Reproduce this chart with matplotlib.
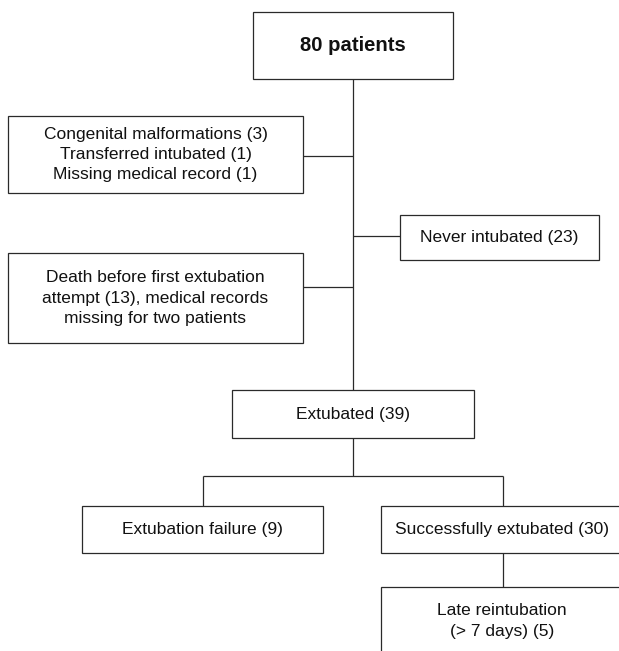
import matplotlib
matplotlib.use("Agg")
import matplotlib.pyplot as plt
from matplotlib.patches import Rectangle

plt.rcParams['font.family'] = ['Liberation Sans', 'DejaVu Sans']

# Texte der Kaestchen
labels = [
    "80 patients",
    "Congenital malformations (3)\nTransferred intubated (1)\nMissing medical record (1)",
    "Never intubated (23)",
    "Death before first extubation\nattempt (13), medical records\nmissing for two patients",
    "Extubated (39)",
    "Extubation failure (9)",
    "Successfully extubated (30)",
    "Late reintubation\n(> 7 days) (5)",
]

# Lage der Kaestchen in Pixeln: x0, y0, x1, y1
boxes = [
    (253, 12, 453, 79),
    (8, 116, 303, 193),
    (400, 215, 599, 260),
    (8, 253, 303, 343),
    (232, 390, 474, 438),
    (82, 506, 323, 553),
    (381, 506, 624, 553),
    (381, 587, 624, 660),
]
# Verbindungslinien
lines = [
    ((353, 79), (353, 390)),
    ((303, 156), (353, 156)),
    ((353, 236), (400, 236)),
    ((303, 287), (353, 287)),
    ((353, 438), (353, 476)),
    ((203, 476), (503, 476)),
    ((203, 476), (203, 506)),
    ((503, 476), (503, 506)),
    ((503, 553), (503, 587)),
]

fig = plt.figure(figsize=(6.19, 6.51), dpi=100)
ax = fig.add_axes([0, 0, 1, 1])
ax.set_xlim(0, 619)
ax.set_ylim(651, 0)
ax.axis('off')

edge = '#2a2a2a'
for (p, q) in lines:
    ax.plot([p[0], q[0]], [p[1], q[1]], color=edge, lw=0.9, solid_capstyle='butt')

for i, (b, txt) in enumerate(zip(boxes, labels)):
    x0, y0, x1, y1 = b
    ax.add_patch(Rectangle((x0, y0), x1 - x0, y1 - y0, fill=True, facecolor='white',
                           edgecolor=edge, lw=0.9))
    cy = (y0 + y1) / 2
    if i == 7:
        cy = 621
    ax.text((x0 + x1) / 2 if i < 6 else 502, cy, txt, ha='center', va='center',
            fontsize=14.6 if i == 0 else 12.5, fontweight='bold' if i == 0 else 'normal',
            linespacing=1.45, color='#111111')

fig.savefig('out.png', dpi=100)
